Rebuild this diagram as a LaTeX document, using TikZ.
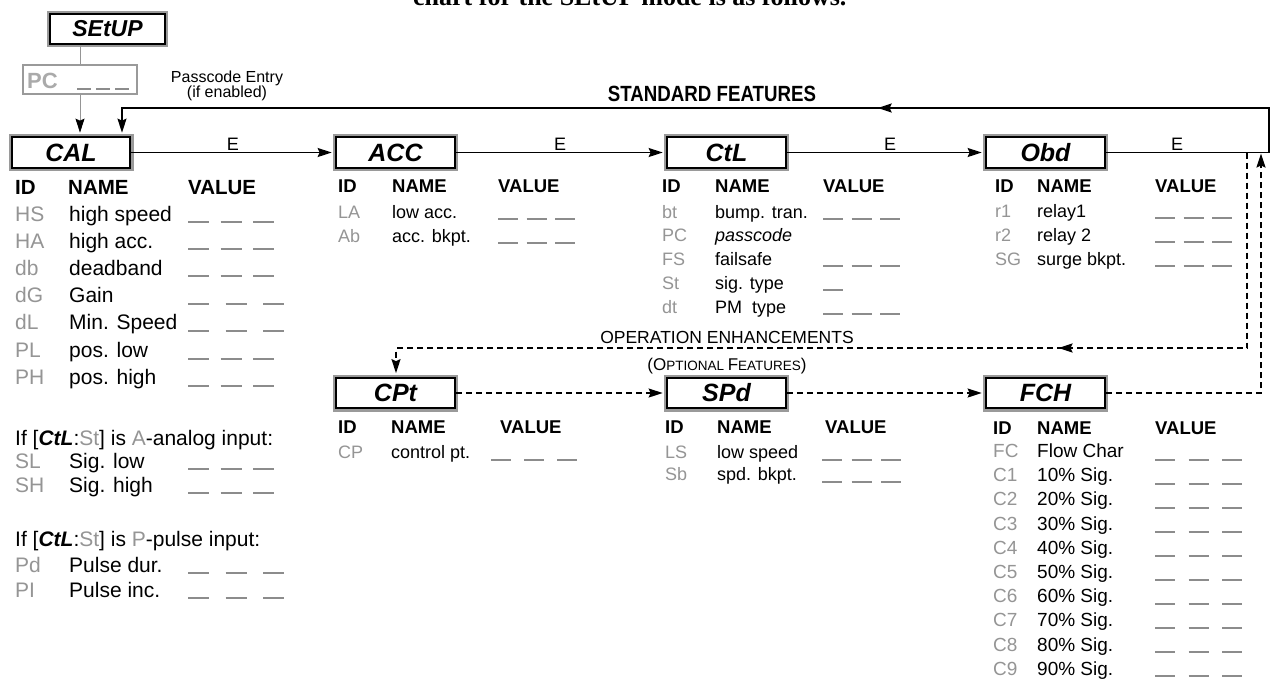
\documentclass[tikz,border=0pt]{standalone}
\usepackage{fontspec}
\setmainfont{Liberation Sans}
\newfontfamily\serifcut{Liberation Serif}
\usetikzlibrary{arrows.meta,decorations.markings}
\definecolor{idgray}{HTML}{959595}
\definecolor{dashgray}{HTML}{8C8C8C}
\definecolor{framegray}{HTML}{9A9A9A}
\newcommand{\fs}[1]{\fontsize{#1}{#1}\selectfont}
\def\tfs{21}\def\hfs{20.5}
\tikzset{
 ttl/.style={draw=black, line width=2.2pt, fill=white, inner sep=0pt,
   minimum width=118.5pt, minimum height=30.5pt, font=\fs{25}\bfseries\itshape,
   preaction={draw=framegray, line width=6.5pt}},
 tx/.style={inner sep=0pt, anchor=base west},
 idt/.style={tx, text=idgray, font=\fs{\tfs}},
 nmt/.style={tx, font=\fs{\tfs}},
 hd/.style={tx, font=\fs{\hfs}\bfseries},
 vd/.style={draw=dashgray, line width=2pt},
 tip/.style={-{Stealth[length=14pt,width=9pt,inset=2pt]}},
 con/.style={line width=1.8pt, tip},
 dcon/.style={con, dash pattern=on 6pt off 4pt},
 elab/.style={inner sep=0pt, anchor=base, font=\fs{18}},
}
\newcommand{\hdrow}[5]{%
 \node[hd] (#1-hid) at (#3,#2) {ID};
 \node[hd] (#1-hnm) at (#4,#2) {NAME};
 \node[hd] (#1-hvl) at (#5,#2) {VALUE};}
\newcommand{\tabrow}[6]{%
 \node[idt] (#1-i) at (#3,#2) {#5};
 \node[nmt] (#1-n) at (#4,#2) {#6};}
\newcommand{\valdash}[4]{%
 \foreach \k in {0,1,2}{\draw[vd] ({#1+\k*#4},#2) -- ++(#3,0);}}
\begin{document}
\begin{tikzpicture}[x=1pt,y=-1pt]
\useasboundingbox (0,0) rectangle (1272,678);
\clip (0,0) rectangle (1272,678);
\fill[white] (0,0) rectangle (1272,678);

% cut-off heading
\node[tx, font=\serifcut\fs{26}\bfseries] (cut) at (413,5) {chart for the SEtUP mode is as follows.};

% setup and passcode
\node[ttl, minimum width=114.5pt, minimum height=29.5pt, font=\fs{23}\bfseries\itshape] (setup) at (107.5,29) {SEtUP};
\node[draw=framegray, line width=1.6pt, minimum width=114pt, minimum height=29pt, inner sep=0pt] (pc) at (80,79.5) {};
\node[tx, text=idgray!80, font=\fs{22}\bfseries] (pct) at (27,88) {PC};
\valdash{77}{89}{14}{19}
\node[inner sep=0pt, anchor=base, font=\fs{16}] (pe1) at (227,82) {Passcode Entry};
\node[inner sep=0pt, anchor=base, font=\fs{16}] (pe2) at (227,97) {(if enabled)};

% standard features boxes
\node[ttl] (cal) at (71,152.5) {CAL};
\node[ttl] (acc) at (395.5,152.5) {ACC};
\node[ttl] (ctl) at (726.5,152.5) {CtL};
\node[ttl] (obd) at (1045.5,152.5) {Obd};
\node[inner sep=0pt, anchor=base, font=\fs{22}\bfseries] (std) at (712,101) {\scalebox{0.85}[1]{STANDARD FEATURES}};

\draw[con, shorten >=3.5pt] (cal.east) -- (acc.west);
\draw[con, shorten >=3.5pt] (acc.east) -- (ctl.west);
\draw[con, shorten >=3.5pt] (ctl.east) -- (obd.west);
\node[elab] (e1) at (233,150.5) {E};
\node[elab] (e2) at (560,150.5) {E};
\node[elab] (e3) at (890,150.5) {E};
\node[elab] (e4) at (1177,150.5) {E};

\coordinate (tr1) at (1269,152.5);
\coordinate (tr2) at (1269,108);
\coordinate (tl) at (122,108);
\draw[con, shorten >=3.5pt, postaction={decorate},
  decoration={markings, mark=at position 599pt with {\arrow{Stealth[length=14pt,width=9pt,inset=2pt]}}}]
  (obd.east) -- (tr1) -- (tr2) -- (tl) -- (tl |- cal.north);

\draw[line width=0.8pt, draw=idgray] (pc.north |- setup.south) -- (pc.north);
\draw[line width=0.8pt, draw=idgray, -{Stealth[length=14pt,width=9pt,inset=2pt,color=black]}, shorten >=3.5pt]
  (pc.south) -- (pc.south |- cal.north);

% CAL table
\def\tfs{21}\def\hfs{20.5}
\hdrow{cal}{194}{15}{68}{188}
\tabrow{calhs}{221}{15}{69}{HS}{high speed} \valdash{188}{222}{21}{32.5}
\tabrow{calha}{248}{15}{69}{HA}{high acc.} \valdash{188}{249}{21}{32.5}
\tabrow{caldb}{275}{15}{69}{db}{deadband} \valdash{188}{276}{21}{32.5}
\tabrow{caldg}{302}{15}{69}{dG}{Gain} \valdash{188}{304}{21}{37.5}
\tabrow{caldl}{329}{15}{69}{dL}{Min. Speed} \valdash{188}{331}{21}{37.5}
\tabrow{calpl}{357}{15}{69}{PL}{pos. low} \valdash{188}{359}{21}{32.5}
\tabrow{calph}{384}{15}{69}{PH}{pos. high} \valdash{188}{386}{21}{32.5}

\node[nmt] (ifa) at (15,445) {If [{\bfseries\itshape CtL}:\textcolor{idgray}{St}] is \textcolor{idgray}{A}-analog input:};
\tabrow{sl}{468}{15}{69}{SL}{Sig. low} \valdash{188}{469}{21}{32.5}
\tabrow{sh}{492}{15}{69}{SH}{Sig. high} \valdash{188}{493}{21}{32.5}
\node[nmt] (ifp) at (15,546) {If [{\bfseries\itshape CtL}:\textcolor{idgray}{St}] is \textcolor{idgray}{P}-pulse input:};
\tabrow{pd}{572}{15}{69}{Pd}{Pulse dur.} \valdash{188}{573}{21}{37.5}
\tabrow{pi}{597}{15}{69}{PI}{Pulse inc.} \valdash{188}{598}{21}{37.5}

% ACC table
\def\tfs{18}\def\hfs{18.5}
\hdrow{acc}{192}{338}{392}{498}
\tabrow{accla}{218}{338}{392}{LA}{low acc.} \valdash{498}{219}{20}{28.5}
\tabrow{accab}{242}{338}{392}{Ab}{acc. bkpt.} \valdash{498}{243}{20}{28.5}

% CtL table
\hdrow{ctl}{192}{662}{715}{823}
\tabrow{ctlbt}{218}{662}{715}{bt}{bump. tran.} \valdash{823}{219}{20}{28.5}
\tabrow{ctlpc}{241.5}{662}{715}{PC}{\itshape passcode}
\tabrow{ctlfs}{265}{662}{715}{FS}{failsafe} \valdash{823}{266}{20}{28.5}
\tabrow{ctlst}{289}{662}{715}{St}{sig. type} \draw[vd] (823,290) -- ++(20,0);
\tabrow{ctldt}{313}{662}{715}{dt}{PM\ \ type} \valdash{823}{314}{20}{28.5}

% Obd table
\hdrow{obd}{192}{995}{1037}{1155}
\tabrow{obdr1}{217}{995}{1037}{r1}{relay1} \valdash{1155}{218}{20}{28.5}
\tabrow{obdr2}{241}{995}{1037}{r2}{relay 2} \valdash{1155}{242}{20}{28.5}
\tabrow{obdsg}{265}{995}{1037}{SG}{surge bkpt.} \valdash{1155}{266}{20}{28.5}

% optional features
\node[ttl] (cpt) at (395.5,393) {CPt};
\node[ttl] (spd) at (726.5,393) {SPd};
\node[ttl] (fch) at (1045.5,393) {FCH};
\node[inner sep=0pt, anchor=base, font=\fs{17.5}] (op) at (727,343) {OPERATION ENHANCEMENTS};
\node[inner sep=0pt, anchor=base] (opt) at (727,370) {\fs{17}(O\fs{13.5}PTIONAL \fs{17}F\fs{13.5}EATURES\fs{17})};

\coordinate (j1) at (1247,152.5);
\coordinate (j2) at (1247,348);
\coordinate (j3) at (396,348);
\draw[dcon, shorten >=3.5pt, postaction={decorate},
  decoration={markings, mark=at position 384pt with {\arrow{Stealth[length=14pt,width=9pt,inset=2pt]}}}]
  (j1) -- (j2) -- (j3) -- (j3 |- cpt.north);
\draw[dcon, shorten >=3.5pt] (cpt.east) -- (spd.west);
\draw[dcon, shorten >=3.5pt] (spd.east) -- (fch.west);
\coordinate (k1) at (1261,393);
\draw[dcon, shorten >=1pt] (fch.east) -- (k1) -- (k1 |- obd.east);

% CPt table
\hdrow{cpt}{433}{338}{391}{500}
\tabrow{cptcp}{458}{338}{391}{CP}{control pt.} \valdash{491}{460}{20}{33}

% SPd table
\hdrow{spd}{433}{665}{717}{825}
\tabrow{spdls}{458}{665}{717}{LS}{low speed} \valdash{822}{460}{20}{29.5}
\tabrow{spdsb}{480}{665}{717}{Sb}{spd. bkpt.} \valdash{822}{482}{20}{29.5}

% FCH table
\def\tfs{19}\def\hfs{18.5}
\hdrow{fch}{434}{993}{1037}{1155}
\tabrow{fchfc}{457.5}{993}{1037}{FC}{Flow Char} \valdash{1155}{460}{20}{33.5}
\tabrow{fchc1}{481.7}{993}{1037}{C1}{10\% Sig.} \valdash{1155}{484}{20}{33.5}
\tabrow{fchc2}{505.9}{993}{1037}{C2}{20\% Sig.} \valdash{1155}{508}{20}{33.5}
\tabrow{fchc3}{530.1}{993}{1037}{C3}{30\% Sig.} \valdash{1155}{532}{20}{33.5}
\tabrow{fchc4}{554.3}{993}{1037}{C4}{40\% Sig.} \valdash{1155}{556}{20}{33.5}
\tabrow{fchc5}{578.5}{993}{1037}{C5}{50\% Sig.} \valdash{1155}{580}{20}{33.5}
\tabrow{fchc6}{602.7}{993}{1037}{C6}{60\% Sig.} \valdash{1155}{604}{20}{33.5}
\tabrow{fchc7}{626.9}{993}{1037}{C7}{70\% Sig.} \valdash{1155}{628}{20}{33.5}
\tabrow{fchc8}{651.1}{993}{1037}{C8}{80\% Sig.} \valdash{1155}{652}{20}{33.5}
\tabrow{fchc9}{675.3}{993}{1037}{C9}{90\% Sig.} \valdash{1155}{676}{20}{33.5}
\end{tikzpicture}
\end{document}
